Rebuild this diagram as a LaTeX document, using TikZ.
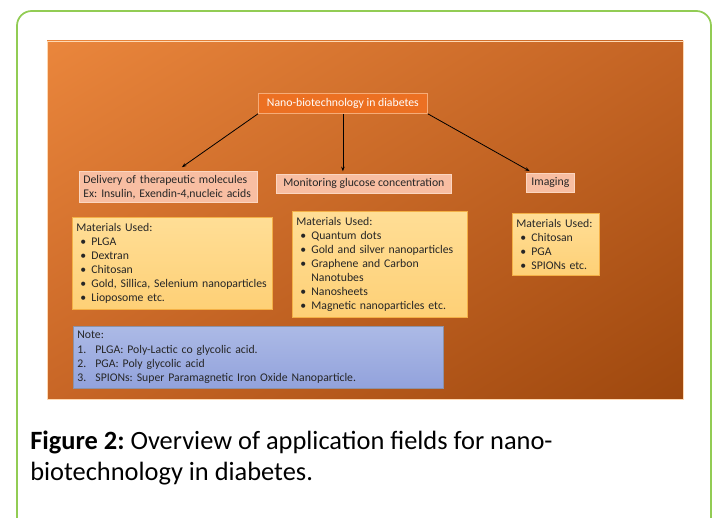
\documentclass[tikz,border=0pt]{standalone}
\usepackage{fontspec}
\setmainfont{Carlito}
\usepackage{xcolor}
\usetikzlibrary{arrows.meta,positioning,shadings}
\definecolor{frameG}{RGB}{146,204,84}
\definecolor{panUL}{RGB}{234,134,60}
\definecolor{panUR}{RGB}{196,100,36}
\definecolor{panLL}{RGB}{200,102,38}
\definecolor{panLR}{RGB}{158,72,14}
\definecolor{inkD}{RGB}{38,38,38}
\definecolor{ttlF}{RGB}{236,112,34}
\definecolor{ttlD}{RGB}{246,172,120}
\definecolor{fldF}{RGB}{248,190,162}
\definecolor{fldD}{RGB}{252,214,192}
\definecolor{matT}{RGB}{255,222,150}
\definecolor{matB}{RGB}{254,208,118}
\definecolor{matD}{RGB}{244,176,70}
\definecolor{nteT}{RGB}{172,186,230}
\definecolor{nteB}{RGB}{146,162,220}
\definecolor{nteD}{RGB}{140,145,165}
\newcommand{\itm}[1]{\hspace*{3pt}\makebox[8.25pt][l]{\textbullet}#1}
\newcommand{\nitm}[2]{\makebox[13.5pt][l]{#1}#2}
\frenchspacing

\begin{document}
\begin{tikzpicture}[x=0.75pt,y=-0.75pt,
  lvl/.style={draw=#1,line width=0.6pt,anchor=north west,inner sep=0pt,font=\fontsize{8.8}{10.6}\selectfont,text=inkD},
  ttl/.style={lvl=ttlD,fill=ttlF,text=white},
  fld/.style={lvl=fldD,fill=fldF},
  mat/.style={lvl=matD,top color=matT,bottom color=matB,align=left},
  nte/.style={lvl=nteD,top color=nteT,bottom color=nteB,align=left},
  arr/.style={-{Stealth[length=3.5pt,width=2.6pt]},black,line width=0.6pt}]
  \useasboundingbox (0,0) rectangle (716,517);
  \draw[frameG,line width=1.3pt,rounded corners=11] (17,540) -- (17,11) -- (711,11) -- (711,540);
  \shade[upper left=panUL,upper right=panUR,lower left=panLL,lower right=panLR] (47,41) rectangle (683,399);
  \draw[orange!30,line width=0.6pt] (47,41) rectangle (683,399);
  % top and the three fields
  \node[ttl,minimum width=126.75pt,minimum height=15pt] (top) at (258,93) {Nano-biotechnology in diabetes};
  \node[fld,minimum width=133.5pt,minimum height=23.25pt,text width=127.5pt,align=left] (deliv) at (79,171) {Delivery of therapeutic molecules\\Ex: Insulin, Exendin-4,nucleic acids};
  \node[fld,minimum width=131.25pt,minimum height=14.25pt] (monit) at (276,174) {Monitoring glucose concentration};
  \node[fld,minimum width=36pt,minimum height=14.25pt] (imag) at (526,173) {Imaging};
  % materials
  \node[mat,minimum width=150pt,minimum height=69pt,text width=144pt] (matA) at (72,217) {Materials Used:\\\itm{PLGA}\\\itm{Dextran}\\\itm{Chitosan}\\\itm{Gold, Sillica, Selenium nanoparticles}\\\itm{Lioposome etc.}};
  \node[mat,minimum width=131.25pt,minimum height=79.5pt,text width=125.25pt] (matB) at (292,211) {Materials Used:\\\itm{Quantum dots}\\\itm{Gold and silver nanoparticles}\\\itm{Graphene and Carbon}\\\hspace*{11.25pt}Nanotubes\\\itm{Nanosheets}\\\itm{Magnetic nanoparticles etc.}};
  \node[mat,minimum width=65.25pt,minimum height=46.5pt,text width=59.25pt] (matC) at (512,213) {Materials Used:\\\itm{Chitosan}\\\itm{PGA}\\\itm{SPIONs etc.}};
  \node[nte,minimum width=277.5pt,minimum height=46.5pt,text width=271.5pt] (note) at (73,326) {Note:\\\nitm{1.}{PLGA: Poly-Lactic co glycolic acid.}\\\nitm{2.}{PGA: Poly glycolic acid}\\\nitm{3.}{SPIONs: Super Paramagnetic Iron Oxide Nanoparticle.}};
  \draw[arr,shorten >=5pt] (top.south west) -- ([xshift=6pt]deliv.north);
  \draw[arr,shorten >=2pt] (top.south) -- (top.south |- monit.north);
  \draw[arr,shorten >=3pt] (top.south east) -- ([xshift=-13pt]imag.north);
  \node[anchor=north west,inner sep=0pt,align=left,font=\fontsize{19.8}{23.25}\selectfont] (cap) at (30,431) {\textbf{Figure 2:} Overview of application fields for nano-\\biotechnology in diabetes.};
\end{tikzpicture}
\end{document}
